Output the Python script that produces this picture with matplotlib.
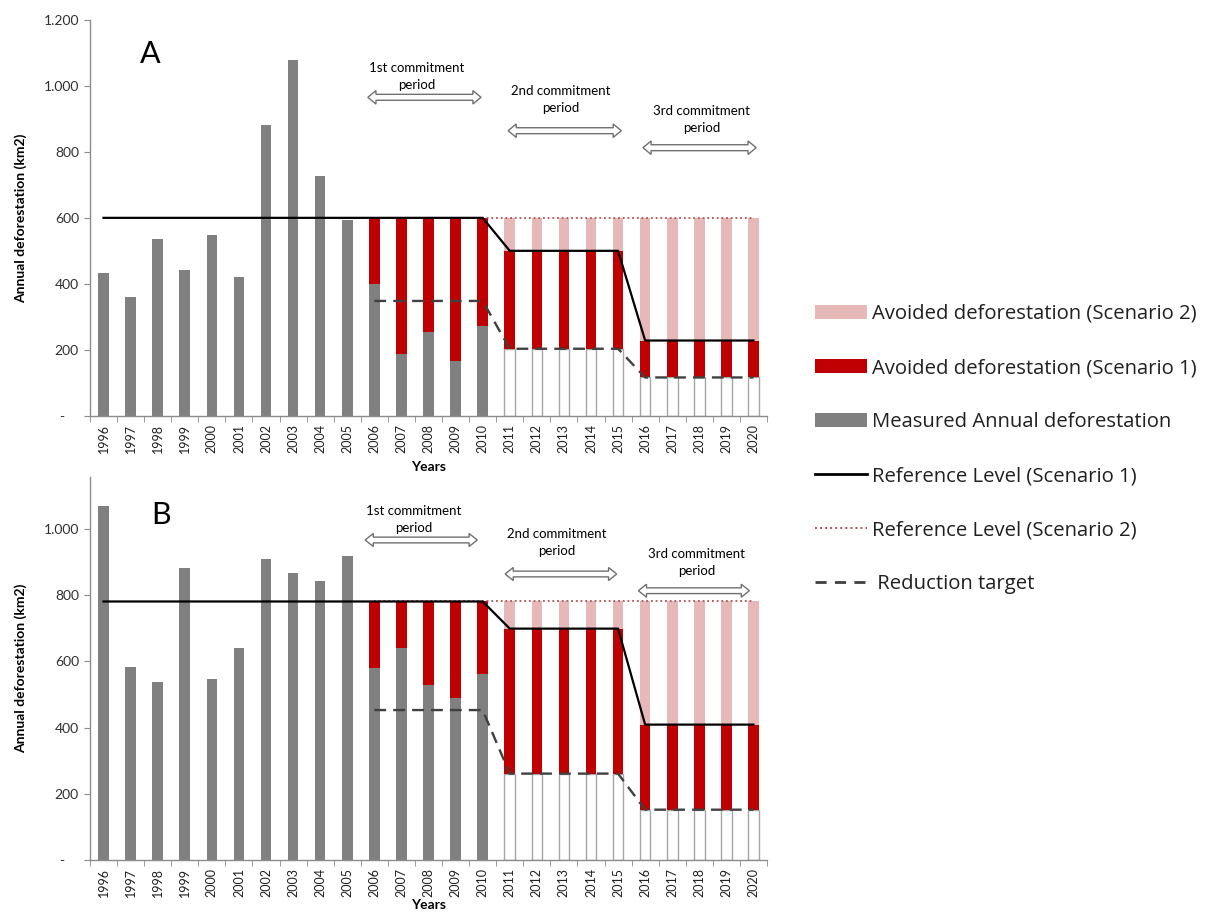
import numpy as np
import matplotlib
matplotlib.use("Agg")
import matplotlib.pyplot as plt
from matplotlib.patches import Patch, Polygon
from matplotlib.lines import Line2D
from matplotlib.transforms import blended_transform_factory

plt.rcParams['font.family'] = ['Lato', 'DejaVu Sans']

# ---------------- data ----------------
years = list(range(1996, 2021))
year_labels = [str(y) for y in years]

# Panel A
a_measured = [434, 359, 536, 442, 547, 420, 883, 1078, 728, 594, 399, 186, 254, 167, 273]
a_ref1 = [600] * 15 + [500] * 5 + [228] * 5
a_ref2 = [600] * 25
a_target = [348] * 5 + [203] * 5 + [116] * 5   # 2006-2020

# Panel B
b_measured = [1070, 582, 539, 883, 546, 639, 908, 868, 843, 919, 579, 640, 529, 488, 561]
b_ref1 = [781] * 15 + [699] * 5 + [409] * 5
b_ref2 = [781] * 25
b_target = [453] * 5 + [261] * 5 + [152] * 5   # 2006-2020

periods = ["1st commitment\nperiod", "2nd commitment\nperiod", "3rd commitment\nperiod"]

C_GRAY = '#808080'
C_RED = '#C00000'
C_PINK = '#E6B9B8'
C_DOT = '#B05050'
C_AX = '#8C8C8C'

W, H = 1205, 915
fig = plt.figure(figsize=(W / 100, H / 100), dpi=100)


def fr(x0, y0, x1, y1):
    return [x0 / W, 1 - y1 / H, (x1 - x0) / W, (y1 - y0) / H]


def double_arrow(ax, x0, x1, yc, head_len=0.3, head_h=0.017, shaft_h=0.0075):
    tr = blended_transform_factory(ax.transData, ax.transAxes)
    pts = [(x0, yc), (x0 + head_len, yc + head_h), (x0 + head_len, yc + shaft_h),
           (x1 - head_len, yc + shaft_h), (x1 - head_len, yc + head_h), (x1, yc),
           (x1 - head_len, yc - head_h), (x1 - head_len, yc - shaft_h),
           (x0 + head_len, yc - shaft_h), (x0 + head_len, yc - head_h)]
    ax.add_patch(Polygon(pts, closed=True, transform=tr, facecolor='white',
                         edgecolor='#707070', lw=1.0, clip_on=False, zorder=6))


def panel(ax, measured, ref1, ref2, target, ymax, yticks, letter, letter_xy,
          arrow_specs, text_specs, xlabelpad):
    n = len(years)
    x = np.arange(n)
    nm = len(measured)
    bw = 0.39
    # measured
    ax.bar(x[:nm], measured, width=bw, color=C_GRAY, zorder=2)
    # target white bars for future years
    fut = x[nm:]
    tgt_full = [None] * 10 + list(target)
    ax.bar(fut, [tgt_full[i] for i in fut], width=bw, color='white',
           edgecolor='#A6A6A6', lw=1.0, zorder=2)
    # red avoided (scenario 1)
    red_bottom = [measured[i] if i < nm else tgt_full[i] for i in range(10, n)]
    red_h = [ref1[i] - red_bottom[i - 10] for i in range(10, n)]
    ax.bar(x[10:], red_h, bottom=red_bottom, width=bw, color=C_RED, zorder=2)
    # pink avoided (scenario 2)
    pink_h = [ref2[i] - ref1[i] for i in fut]
    ax.bar(fut, pink_h, bottom=[ref1[i] for i in fut], width=bw, color=C_PINK, zorder=2)
    # lines
    ax.plot(x[10:], ref2[10:], color=C_DOT, lw=1.3, linestyle=(0, (1, 1.6)), zorder=3)
    ax.plot(x, ref1, color='black', lw=1.6, zorder=4)
    ax.plot(x[10:], tgt_full[10:], color='#404040', lw=1.7, dashes=(5, 3), zorder=5)

    ax.set_xlim(-0.5, n - 0.5)
    ax.set_ylim(0, ymax)
    for s in ['top', 'right']:
        ax.spines[s].set_visible(False)
    for s in ['left', 'bottom']:
        ax.spines[s].set_color(C_AX)
        ax.spines[s].set_linewidth(1.0)
    ax.set_xticks(x)
    ax.set_xticklabels(year_labels, rotation=90, fontsize=9, color='#202020')
    ax.set_xticks(np.arange(-0.5, n, 1.0), minor=True)
    ax.tick_params(axis='x', which='major', length=0, pad=6)
    ax.tick_params(axis='x', which='minor', length=4, direction='out', color=C_AX)
    ax.set_yticks(yticks)
    ax.set_yticklabels(['-    '] + [f"{v:,}".replace(',', '.') for v in yticks[1:]],
                       fontsize=10, color='#303030')
    ax.tick_params(axis='y', length=4, direction='out', color=C_AX, pad=4)
    ax.set_xlabel('Years', fontsize=10, fontweight='bold', labelpad=xlabelpad)
    ax.set_ylabel('Annual deforestation (km2)', fontsize=10, fontweight='bold', labelpad=12)
    ax.text(letter_xy[0], letter_xy[1], letter, transform=ax.transAxes, fontsize=22,
            ha='center', va='center')
    for (x0, x1, ya), (xt, yt), label in zip(arrow_specs, text_specs, periods):
        double_arrow(ax, x0, x1, ya)
        ax.text(xt, yt, label, transform=blended_transform_factory(ax.transData, ax.transAxes),
                fontsize=9.5, ha='center', va='center', linespacing=1.55, clip_on=False)


# Panel A axes: x 90..767, y 20..415.7
axA = fig.add_axes(fr(90, 20, 767, 415.7))
hA = 395.7
panel(axA, a_measured, a_ref1, a_ref2, a_target, 1200, [0, 200, 400, 600, 800, 1000, 1200],
      'A', ((150 - 90) / 677, 1 - (54 - 20) / hA),
      [(9.76, 13.94, 1 - (97.3 - 20) / hA), (14.94, 19.12, 1 - (130.7 - 20) / hA),
       (19.92, 24.1, 1 - (147.7 - 20) / hA)],
      [(11.57, 1 - (76.7 - 20) / hA), (16.88, 1 - (99.5 - 20) / hA),
       (22.08, 1 - (119.7 - 20) / hA)], 6)

# Panel B axes: x 90..767, y 476.7..860
axB = fig.add_axes(fr(90, 476.7, 767, 860))
hB = 383.3
panel(axB, b_measured, b_ref1, b_ref2, b_target, 1158, [0, 200, 400, 600, 800, 1000],
      'B', ((161 - 90) / 677, 1 - (515 - 476.7) / hB),
      [(9.66, 13.8, 1 - (540 - 476.7) / hB), (14.83, 18.95, 1 - (574 - 476.7) / hB),
       (19.75, 23.85, 1 - (590.7 - 476.7) / hB)],
      [(11.45, 1 - (519.7 - 476.7) / hB), (16.74, 1 - (542.3 - 476.7) / hB),
       (21.9, 1 - (562.3 - 476.7) / hB)], 1)

handles = [
    Patch(facecolor=C_PINK, edgecolor='none'),
    Patch(facecolor=C_RED, edgecolor='none'),
    Patch(facecolor=C_GRAY, edgecolor='none'),
    Line2D([], [], color='black', lw=2.0),
    Line2D([], [], color=C_DOT, lw=1.4, linestyle=(0, (1, 1.6))),
    Line2D([], [], color='#404040', lw=2.0, dashes=(4, 3)),
]
labels = ["Avoided deforestation (Scenario 2)", "Avoided deforestation (Scenario 1)",
          "Measured Annual deforestation", "Reference Level (Scenario 1)",
          "Reference Level (Scenario 2)", " Reduction target"]
fig.legend(handles, labels, loc='upper left', bbox_to_anchor=(815 / W, 1 - 304 / H),
           frameon=False, prop={'family': ['Open Sans', 'DejaVu Sans'], 'size': 14.6},
           handlelength=2.55, handleheight=0.7,
           handletextpad=0.25, labelspacing=1.68, borderaxespad=0, borderpad=0,
           labelcolor='#202020')

fig.savefig('out.png', dpi=100)
